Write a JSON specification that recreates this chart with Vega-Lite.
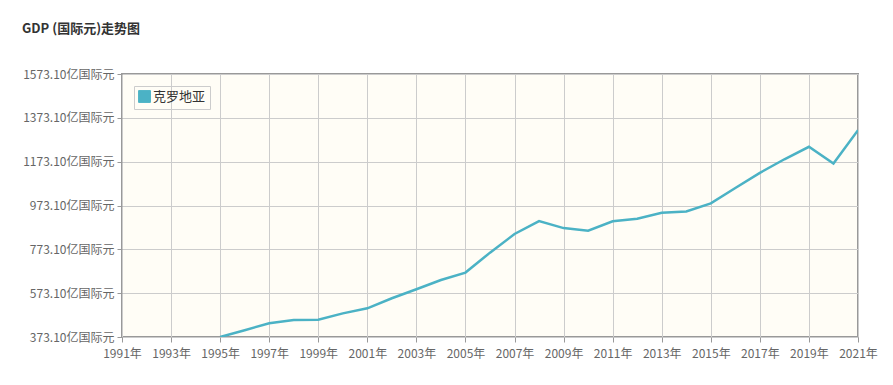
{
  "$schema": "https://vega.github.io/schema/vega-lite/v6.json",
  "width": 736,
  "height": 263,
  "autosize": "none",
  "padding": {"left": 122, "top": 74, "right": 35, "bottom": 48},
  "background": "white",
  "title": {
    "text": "GDP (国际元)走势图",
    "anchor": "start",
    "frame": "group",
    "dx": -100,
    "offset": 32,
    "font": "Noto Sans CJK SC",
    "fontSize": 13,
    "fontWeight": "bold",
    "color": "#333333"
  },
  "config": {
    "view": {"fill": "#fffdf6", "stroke": "#999999", "strokeWidth": 2},
    "axis": {
      "labelFont": "Noto Sans CJK SC",
      "labelFontSize": 12,
      "labelColor": "#666666",
      "gridColor": "#cccccc",
      "gridOpacity": 1,
      "tickColor": "#999999",
      "tickSize": 5,
      "domain": false,
      "title": null
    }
  },
  "data": {
    "values": [
      {"year": 1995, "gdp": 373.1},
      {"year": 1996, "gdp": 404},
      {"year": 1997, "gdp": 436},
      {"year": 1998, "gdp": 451},
      {"year": 1999, "gdp": 452},
      {"year": 2000, "gdp": 481},
      {"year": 2001, "gdp": 504},
      {"year": 2002, "gdp": 550},
      {"year": 2003, "gdp": 591},
      {"year": 2004, "gdp": 633},
      {"year": 2005, "gdp": 667},
      {"year": 2006, "gdp": 758},
      {"year": 2007, "gdp": 843},
      {"year": 2008, "gdp": 902},
      {"year": 2009, "gdp": 870},
      {"year": 2010, "gdp": 858},
      {"year": 2011, "gdp": 901},
      {"year": 2012, "gdp": 913},
      {"year": 2013, "gdp": 940},
      {"year": 2014, "gdp": 946},
      {"year": 2015, "gdp": 983},
      {"year": 2016, "gdp": 1053},
      {"year": 2017, "gdp": 1122},
      {"year": 2018, "gdp": 1184},
      {"year": 2019, "gdp": 1241},
      {"year": 2020, "gdp": 1165},
      {"year": 2021, "gdp": 1317}
    ]
  },
  "mark": {"type": "line", "strokeWidth": 2.5, "clip": true},
  "encoding": {
    "x": {
      "field": "year",
      "type": "quantitative",
      "scale": {"domain": [1991, 2021], "nice": false, "zero": false},
      "axis": {
        "values": [1991, 1993, 1995, 1997, 1999, 2001, 2003, 2005, 2007, 2009, 2011, 2013, 2015, 2017, 2019, 2021],
        "labelExpr": "datum.value + '年'",
        "labelPadding": 6,
        "labelFlush": false,
        "labelOverlap": false,
        "grid": true
      }
    },
    "y": {
      "field": "gdp",
      "type": "quantitative",
      "scale": {"domain": [373.1, 1573.1], "nice": false, "zero": false},
      "axis": {
        "values": [373.1, 573.1, 773.1, 973.1, 1173.1, 1373.1, 1573.1],
        "labelExpr": "format(datum.value, '.2f') + '亿国际元'",
        "labelPadding": 3,
        "labelOverlap": false,
        "grid": true
      }
    },
    "color": {
      "datum": "克罗地亚",
      "type": "nominal",
      "scale": {"range": ["#4bb2c5"]},
      "legend": {
        "title": null,
        "orient": "top-left",
        "offset": 12,
        "padding": 4,
        "strokeColor": "#cccccc",
        "symbolType": "square",
        "symbolSize": 140,
        "symbolOffset": 0,
        "labelOffset": 2,
        "labelFont": "Noto Sans CJK SC",
        "labelFontSize": 13,
        "labelColor": "#333333",
        "labelExpr": "datum.label + '\u3000\u3000'",
        "encode": {"symbols": {"update": {"fill": {"value": "#4bb2c5"}, "stroke": {"value": "#8fd0dc"}, "strokeWidth": {"value": 1}}}}
      }
    }
  }
}
